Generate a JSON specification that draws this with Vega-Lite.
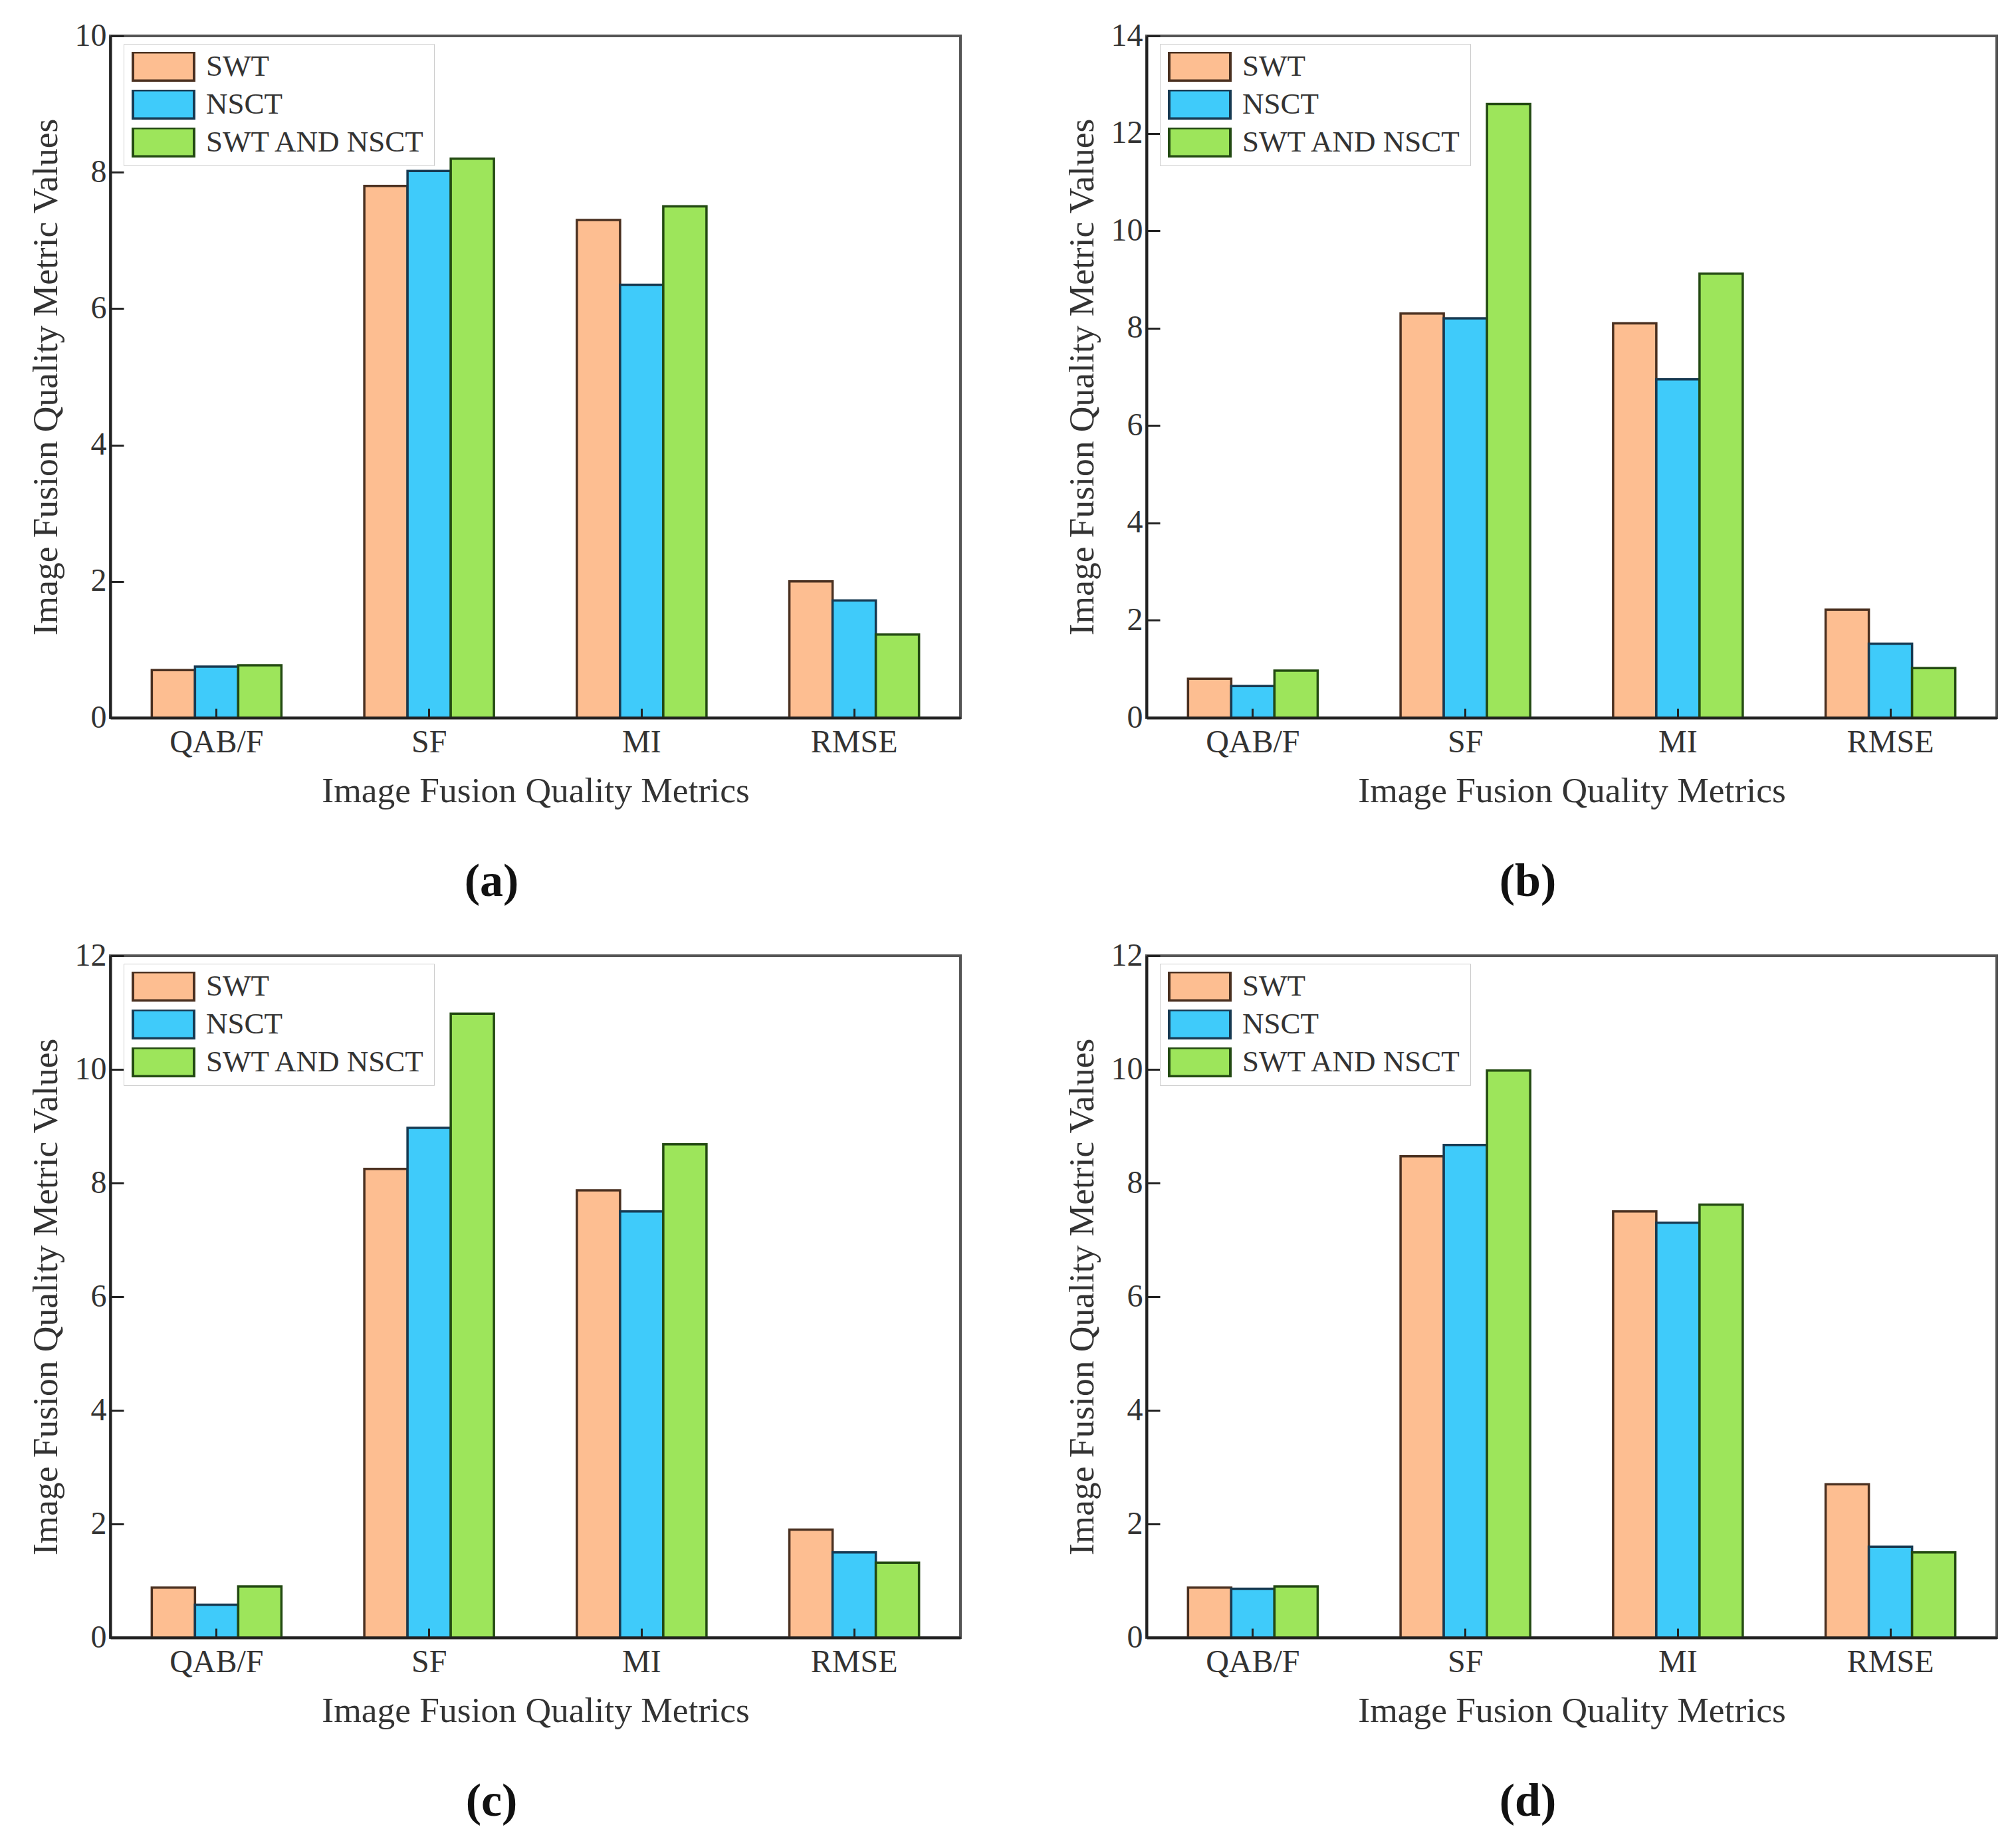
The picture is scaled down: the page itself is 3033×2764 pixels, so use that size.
{
  "$schema": "https://vega.github.io/schema/vega-lite/v6.json",
  "background": "white",
  "padding": {"left": 40, "top": 28, "right": 0, "bottom": 0},
  "bounds": "flush",
  "spacing": {"row": 358, "column": 280},
  "columns": 2,
  "config": {
    "font": "Liberation Serif",
    "view": {"stroke": "#555555", "strokeWidth": 4},
    "axis": {
      "labelFont": "Liberation Serif",
      "titleFont": "Liberation Serif",
      "labelFontSize": 48,
      "titleFontSize": 53.5,
      "labelColor": "#333333",
      "titleColor": "#333333",
      "titleFontWeight": "normal",
      "domainColor": "#222222",
      "domainWidth": 4,
      "tickColor": "#222222",
      "tickWidth": 3,
      "grid": false
    },
    "legend": {
      "orient": "none",
      "legendX": 20,
      "legendY": 12,
      "title": null,
      "symbolType": "M-1,-0.47H1V0.47H-1Z",
      "symbolSize": 8464,
      "symbolStrokeWidth": 4,
      "symbolOpacity": 1,
      "clipHeight": 44,
      "labelFont": "Liberation Serif",
      "labelFontSize": 45,
      "labelLimit": 1000,
      "labelColor": "#333333",
      "labelOffset": 16,
      "rowPadding": 12,
      "padding": 12,
      "strokeColor": "#cccccc",
      "fillColor": "white"
    },
    "title": {"font": "Liberation Serif", "fontSize": 70, "fontWeight": "bold", "color": "#111111", "orient": "bottom", "anchor": "middle", "offset": 76, "dx": -66}
  },
  "datasets": {
    "a": [
      {"metric": "QAB/F", "method": "SWT", "value": 0.7},
      {"metric": "QAB/F", "method": "NSCT", "value": 0.75},
      {"metric": "QAB/F", "method": "SWT AND NSCT", "value": 0.77},
      {"metric": "SF", "method": "SWT", "value": 7.8},
      {"metric": "SF", "method": "NSCT", "value": 8.02},
      {"metric": "SF", "method": "SWT AND NSCT", "value": 8.2},
      {"metric": "MI", "method": "SWT", "value": 7.3},
      {"metric": "MI", "method": "NSCT", "value": 6.35},
      {"metric": "MI", "method": "SWT AND NSCT", "value": 7.5},
      {"metric": "RMSE", "method": "SWT", "value": 2.0},
      {"metric": "RMSE", "method": "NSCT", "value": 1.72},
      {"metric": "RMSE", "method": "SWT AND NSCT", "value": 1.22}
    ],
    "b": [
      {"metric": "QAB/F", "method": "SWT", "value": 0.8},
      {"metric": "QAB/F", "method": "NSCT", "value": 0.65},
      {"metric": "QAB/F", "method": "SWT AND NSCT", "value": 0.97},
      {"metric": "SF", "method": "SWT", "value": 8.3},
      {"metric": "SF", "method": "NSCT", "value": 8.2},
      {"metric": "SF", "method": "SWT AND NSCT", "value": 12.6},
      {"metric": "MI", "method": "SWT", "value": 8.1},
      {"metric": "MI", "method": "NSCT", "value": 6.95},
      {"metric": "MI", "method": "SWT AND NSCT", "value": 9.12},
      {"metric": "RMSE", "method": "SWT", "value": 2.22},
      {"metric": "RMSE", "method": "NSCT", "value": 1.52},
      {"metric": "RMSE", "method": "SWT AND NSCT", "value": 1.02}
    ],
    "c": [
      {"metric": "QAB/F", "method": "SWT", "value": 0.88},
      {"metric": "QAB/F", "method": "NSCT", "value": 0.58},
      {"metric": "QAB/F", "method": "SWT AND NSCT", "value": 0.9},
      {"metric": "SF", "method": "SWT", "value": 8.25},
      {"metric": "SF", "method": "NSCT", "value": 8.97},
      {"metric": "SF", "method": "SWT AND NSCT", "value": 10.98},
      {"metric": "MI", "method": "SWT", "value": 7.87},
      {"metric": "MI", "method": "NSCT", "value": 7.5},
      {"metric": "MI", "method": "SWT AND NSCT", "value": 8.68},
      {"metric": "RMSE", "method": "SWT", "value": 1.9},
      {"metric": "RMSE", "method": "NSCT", "value": 1.5},
      {"metric": "RMSE", "method": "SWT AND NSCT", "value": 1.32}
    ],
    "d": [
      {"metric": "QAB/F", "method": "SWT", "value": 0.88},
      {"metric": "QAB/F", "method": "NSCT", "value": 0.86},
      {"metric": "QAB/F", "method": "SWT AND NSCT", "value": 0.9},
      {"metric": "SF", "method": "SWT", "value": 8.47},
      {"metric": "SF", "method": "NSCT", "value": 8.67},
      {"metric": "SF", "method": "SWT AND NSCT", "value": 9.98},
      {"metric": "MI", "method": "SWT", "value": 7.5},
      {"metric": "MI", "method": "NSCT", "value": 7.3},
      {"metric": "MI", "method": "SWT AND NSCT", "value": 7.62},
      {"metric": "RMSE", "method": "SWT", "value": 2.7},
      {"metric": "RMSE", "method": "NSCT", "value": 1.6},
      {"metric": "RMSE", "method": "SWT AND NSCT", "value": 1.5}
    ]
  },
  "resolve": {"scale": {"y": "independent", "color": "independent", "stroke": "independent"}, "legend": {"color": "independent", "stroke": "independent"}},
  "concat": [
    {
      "width": 1279, "height": 1026,
      "title": "(a)",
      "data": {"name": "a"},
      "mark": {"type": "bar", "strokeWidth": 3.5},
      "encoding": {
        "x": {"field": "metric", "type": "nominal", "sort": ["QAB/F", "SF", "MI", "RMSE"], "scale": {"paddingInner": 0.39, "paddingOuter": 0.195}, "axis": {"title": "Image Fusion Quality Metrics", "labelAngle": 0, "tickSize": -14, "labelPadding": 27, "titlePadding": 23, "zindex": 1}},
        "xOffset": {"field": "method", "type": "nominal", "sort": ["SWT", "NSCT", "SWT AND NSCT"], "scale": {"paddingInner": 0, "paddingOuter": 0}},
        "y": {"field": "value", "type": "quantitative", "scale": {"domain": [0, 10], "nice": false}, "axis": {"title": "Image Fusion Quality Metric Values", "values": [0, 2, 4, 6, 8, 10], "tickSize": -20, "labelPadding": 26, "titlePadding": 16}},
        "color": {"field": "method", "type": "nominal", "sort": ["SWT", "NSCT", "SWT AND NSCT"], "scale": {"domain": ["SWT", "NSCT", "SWT AND NSCT"], "range": ["#FDBE91", "#3FCBFA", "#9DE55B"]}, "legend": {}},
        "stroke": {"field": "method", "type": "nominal", "sort": ["SWT", "NSCT", "SWT AND NSCT"], "scale": {"domain": ["SWT", "NSCT", "SWT AND NSCT"], "range": ["#4a3020", "#173a52", "#234a12"]}, "legend": {}}
      }
    },
    {
      "width": 1279, "height": 1026,
      "title": "(b)",
      "data": {"name": "b"},
      "mark": {"type": "bar", "strokeWidth": 3.5},
      "encoding": {
        "x": {"field": "metric", "type": "nominal", "sort": ["QAB/F", "SF", "MI", "RMSE"], "scale": {"paddingInner": 0.39, "paddingOuter": 0.195}, "axis": {"title": "Image Fusion Quality Metrics", "labelAngle": 0, "tickSize": -14, "labelPadding": 27, "titlePadding": 23, "zindex": 1}},
        "xOffset": {"field": "method", "type": "nominal", "sort": ["SWT", "NSCT", "SWT AND NSCT"], "scale": {"paddingInner": 0, "paddingOuter": 0}},
        "y": {"field": "value", "type": "quantitative", "scale": {"domain": [0, 14], "nice": false}, "axis": {"title": "Image Fusion Quality Metric Values", "values": [0, 2, 4, 6, 8, 10, 12, 14], "tickSize": -20, "labelPadding": 26, "titlePadding": 16}},
        "color": {"field": "method", "type": "nominal", "sort": ["SWT", "NSCT", "SWT AND NSCT"], "scale": {"domain": ["SWT", "NSCT", "SWT AND NSCT"], "range": ["#FDBE91", "#3FCBFA", "#9DE55B"]}, "legend": {}},
        "stroke": {"field": "method", "type": "nominal", "sort": ["SWT", "NSCT", "SWT AND NSCT"], "scale": {"domain": ["SWT", "NSCT", "SWT AND NSCT"], "range": ["#4a3020", "#173a52", "#234a12"]}, "legend": {}}
      }
    },
    {
      "width": 1279, "height": 1026,
      "title": "(c)",
      "data": {"name": "c"},
      "mark": {"type": "bar", "strokeWidth": 3.5},
      "encoding": {
        "x": {"field": "metric", "type": "nominal", "sort": ["QAB/F", "SF", "MI", "RMSE"], "scale": {"paddingInner": 0.39, "paddingOuter": 0.195}, "axis": {"title": "Image Fusion Quality Metrics", "labelAngle": 0, "tickSize": -14, "labelPadding": 27, "titlePadding": 23, "zindex": 1}},
        "xOffset": {"field": "method", "type": "nominal", "sort": ["SWT", "NSCT", "SWT AND NSCT"], "scale": {"paddingInner": 0, "paddingOuter": 0}},
        "y": {"field": "value", "type": "quantitative", "scale": {"domain": [0, 12], "nice": false}, "axis": {"title": "Image Fusion Quality Metric Values", "values": [0, 2, 4, 6, 8, 10, 12], "tickSize": -20, "labelPadding": 26, "titlePadding": 16}},
        "color": {"field": "method", "type": "nominal", "sort": ["SWT", "NSCT", "SWT AND NSCT"], "scale": {"domain": ["SWT", "NSCT", "SWT AND NSCT"], "range": ["#FDBE91", "#3FCBFA", "#9DE55B"]}, "legend": {}},
        "stroke": {"field": "method", "type": "nominal", "sort": ["SWT", "NSCT", "SWT AND NSCT"], "scale": {"domain": ["SWT", "NSCT", "SWT AND NSCT"], "range": ["#4a3020", "#173a52", "#234a12"]}, "legend": {}}
      }
    },
    {
      "width": 1279, "height": 1026,
      "title": "(d)",
      "data": {"name": "d"},
      "mark": {"type": "bar", "strokeWidth": 3.5},
      "encoding": {
        "x": {"field": "metric", "type": "nominal", "sort": ["QAB/F", "SF", "MI", "RMSE"], "scale": {"paddingInner": 0.39, "paddingOuter": 0.195}, "axis": {"title": "Image Fusion Quality Metrics", "labelAngle": 0, "tickSize": -14, "labelPadding": 27, "titlePadding": 23, "zindex": 1}},
        "xOffset": {"field": "method", "type": "nominal", "sort": ["SWT", "NSCT", "SWT AND NSCT"], "scale": {"paddingInner": 0, "paddingOuter": 0}},
        "y": {"field": "value", "type": "quantitative", "scale": {"domain": [0, 12], "nice": false}, "axis": {"title": "Image Fusion Quality Metric Values", "values": [0, 2, 4, 6, 8, 10, 12], "tickSize": -20, "labelPadding": 26, "titlePadding": 16}},
        "color": {"field": "method", "type": "nominal", "sort": ["SWT", "NSCT", "SWT AND NSCT"], "scale": {"domain": ["SWT", "NSCT", "SWT AND NSCT"], "range": ["#FDBE91", "#3FCBFA", "#9DE55B"]}, "legend": {}},
        "stroke": {"field": "method", "type": "nominal", "sort": ["SWT", "NSCT", "SWT AND NSCT"], "scale": {"domain": ["SWT", "NSCT", "SWT AND NSCT"], "range": ["#4a3020", "#173a52", "#234a12"]}, "legend": {}}
      }
    }
  ]
}
